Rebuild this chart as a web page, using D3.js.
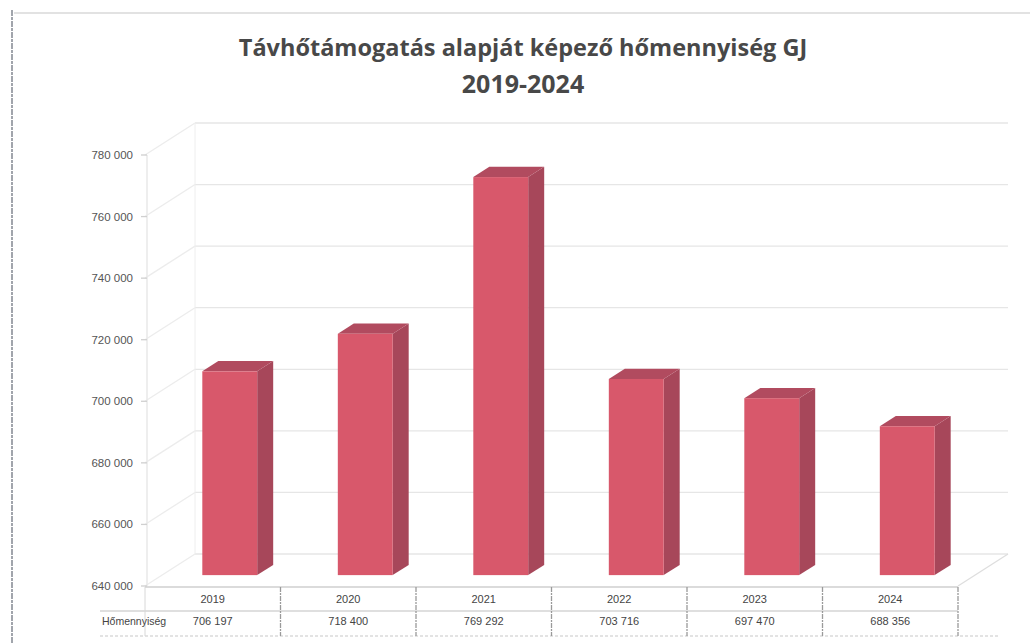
<!DOCTYPE html>
<html><head><meta charset="utf-8">
<script src="https://cdn.jsdelivr.net/npm/d3@7"></script>
<style>html,body{margin:0;padding:0;background:#fff;}svg{display:block;}</style>
</head><body>
<svg id="chart" width="1030" height="643"></svg>
<script>
const titleLines = ["Távhőtámogatás alapját képező hőmennyiség GJ", "2019-2024"];
const years = ["2019", "2020", "2021", "2022", "2023", "2024"];
const values = [706197, 718400, 769292, 703716, 697470, 688356];
const yTicks = [640000, 660000, 680000, 700000, 720000, 740000, 760000, 780000];
const rowLabel = "Hőmennyiség";

const svg = d3.select("#chart");
const W = 1030, H = 643;
const loc = d3.formatLocale({decimal: ",", thousands: " ", grouping: [3], currency: ["", ""]});
const fmt = loc.format(",d");

// front plane scales
const x = d3.scaleBand().domain(years).range([145, 958]).paddingInner(0).paddingOuter(0);
const y = d3.scaleLinear().domain([640000, 780000]).range([586, 155]);
const DX = 50, DY = -32; // oblique depth
const P = (px, py, d) => [px + d * DX, py + d * DY];

// frame
svg.append("line").attr("x1", 12).attr("x2", 12).attr("y1", 10).attr("y2", H)
  .attr("stroke", "#8a8f98").attr("stroke-width", 1.6).attr("stroke-dasharray", "6 1 3 1");
svg.append("line").attr("x1", 14).attr("x2", W).attr("y1", 13).attr("y2", 13)
  .attr("stroke", "#e2e2e2").attr("stroke-width", 2);

// title
const title = svg.append("text").attr("text-anchor", "middle")
  .attr("font-family", "Open Sans, sans-serif").attr("font-weight", 700).attr("font-size", 23.5)
  .attr("fill", "#484848");
title.append("tspan").attr("x", 523).attr("y", 56).text(titleLines[0]);
title.append("tspan").attr("x", 523).attr("y", 93).attr("font-size", 25).text(titleLines[1]);

const g = svg.append("g");
const x0 = x.range()[0], x1 = x.range()[1];

// back wall gridlines
yTicks.forEach(t => {
  const a = P(x0, y(t), 1), b = P(x1, y(t), 1);
  g.append("line").attr("x1", a[0]).attr("y1", a[1]).attr("x2", b[0]).attr("y2", b[1])
    .attr("stroke", "#e6e6e6").attr("stroke-width", 1.3);
  const c = P(x0, y(t), 0);
  g.append("line").attr("x1", c[0]).attr("y1", c[1]).attr("x2", a[0]).attr("y2", a[1])
    .attr("stroke", "#ececec").attr("stroke-width", 1.3);
});
// walls edges
const bl = P(x0, y(640000), 1), tl = P(x0, y(780000), 1);
g.append("line").attr("x1", bl[0]).attr("y1", bl[1]).attr("x2", tl[0]).attr("y2", tl[1]).attr("stroke", "#eeeeee");
g.append("line").attr("x1", x0 + 2).attr("y1", y(640000)).attr("x2", x0 + 2).attr("y2", y(780000)).attr("stroke", "#e8e8e8").attr("stroke-width", 1.5);
// floor right edge
const fr0 = P(x1, y(640000), 0), fr1 = P(x1, y(640000), 1);
g.append("line").attr("x1", fr0[0]).attr("y1", fr0[1]).attr("x2", fr1[0]).attr("y2", fr1[1]).attr("stroke", "#dedede").attr("stroke-width", 1.3);

// y axis labels + ticks
yTicks.forEach(t => {
  g.append("line").attr("x1", x0 - 4).attr("x2", x0 + 2).attr("y1", y(t)).attr("y2", y(t)).attr("stroke", "#d0d0d0").attr("stroke-width", 1.3);
  g.append("text").attr("x", 133).attr("y", y(t) + 4).attr("text-anchor", "end")
    .attr("font-family", "Liberation Sans, Arial, sans-serif").attr("font-size", 11.5).attr("fill", "#555")
    .text(fmt(t));
});

// bars
const d0 = 0.34, d1 = 0.66;
const bw = x.bandwidth() * 0.405;
years.forEach((yr, i) => {
  const v = values[i];
  const cx = x(yr) + x.bandwidth() / 2;
  const [fl, ft] = P(cx - bw / 2, y(v), d0);
  const [fr, fb] = P(cx + bw / 2, y(640000), d0);
  const ddx = (d1 - d0) * DX, ddy = (d1 - d0) * DY;
  g.append("path").attr("d", `M${fr},${ft}L${fr + ddx},${ft + ddy}L${fr + ddx},${fb + ddy}L${fr},${fb}Z`).attr("fill", "#a7475a");
  g.append("path").attr("d", `M${fl},${ft}L${fl + ddx},${ft + ddy}L${fr + ddx},${ft + ddy}L${fr},${ft}Z`).attr("fill", "#b14b5f");
  g.append("rect").attr("x", fl).attr("y", ft).attr("width", fr - fl).attr("height", fb - ft).attr("fill", "#d8586b");
});

// data table
const tTop = 587, tMid = 611, tBot = 636;
const tbl = svg.append("g").attr("font-family", "Liberation Sans, Arial, sans-serif").attr("font-size", 11).attr("fill", "#444");
tbl.append("line").attr("x1", x0).attr("x2", x1).attr("y1", tTop).attr("y2", tTop).attr("stroke", "#cfcfcf").attr("stroke-width", 1.3);
tbl.append("line").attr("x1", 100).attr("x2", x1).attr("y1", tMid).attr("y2", tMid).attr("stroke", "#d4d4d4").attr("stroke-width", 1.3);
tbl.append("line").attr("x1", 100).attr("x2", 1000).attr("y1", tBot).attr("y2", tBot).attr("stroke", "#dadada").attr("stroke-width", 1.3).attr("stroke-dasharray", "3 2");
years.concat(["end"]).forEach((yr, i) => {
  const xx = i < years.length ? x(yr) : x1;
  tbl.append("line").attr("x1", xx).attr("x2", xx).attr("y1", tTop).attr("y2", tBot)
    .attr("stroke", i === 0 ? "#d8d8d8" : "#9a9a9a").attr("stroke-width", i === 0 ? 1 : 1.3).attr("stroke-dasharray", i === 0 ? null : "5 1 2 1");
});
years.forEach((yr, i) => {
  const cx = x(yr) + x.bandwidth() / 2;
  tbl.append("text").attr("x", cx).attr("y", 603).attr("text-anchor", "middle").text(yr);
  tbl.append("text").attr("x", cx).attr("y", 625).attr("text-anchor", "middle").text(fmt(values[i]));
});
tbl.append("text").attr("x", 102).attr("y", 625).attr("font-size", 10.5).text(rowLabel);
</script>
</body></html>
